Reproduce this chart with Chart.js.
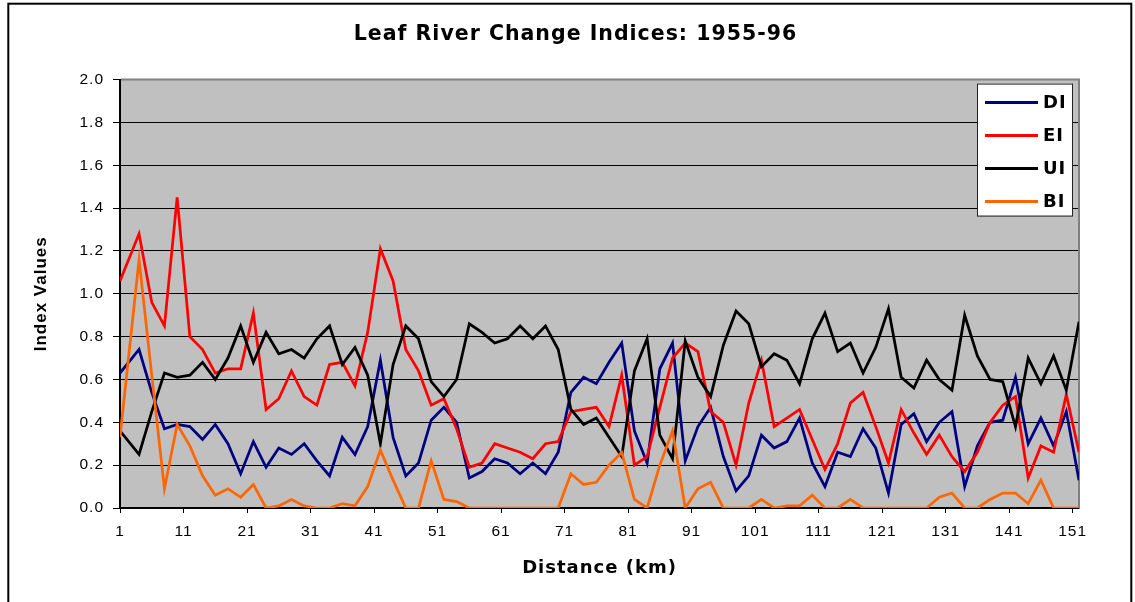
<!DOCTYPE html>
<html>
<head>
<meta charset="utf-8">
<title>Leaf River Change Indices: 1955-96</title>
<script src="https://cdn.jsdelivr.net/npm/chart.js@4.4.1/dist/chart.umd.min.js"></script>
<style>
  html, body { margin: 0; padding: 0; background: #fff; }
  #wrap { width: 1135px; height: 602px; }
</style>
</head>
<body>
<div id="wrap"><canvas id="chart"></canvas></div>
<script>
// distance down the river (km), one sample per reach
const distance = [1, 4, 6, 8, 10, 12, 14, 16, 18, 20, 22, 24, 26, 28, 30, 32, 34, 36, 38, 40,
  42, 44, 46, 48, 50, 52, 54, 56, 58, 60, 62, 64, 66, 68, 70, 72, 74, 76, 78, 80,
  82, 84, 86, 88, 90, 92, 94, 96, 98, 100, 102, 104, 106, 108, 110, 112, 114, 116, 118, 120,
  122, 124, 126, 128, 130, 132, 134, 136, 138, 140, 142, 144, 146, 148, 150, 152];

const di = [0.63, 0.74, 0.54, 0.37, 0.39, 0.38, 0.32, 0.39, 0.30, 0.16, 0.31, 0.19, 0.28, 0.25, 0.30, 0.22, 0.15, 0.33, 0.25, 0.38,
  0.69, 0.33, 0.15, 0.21, 0.41, 0.47, 0.40, 0.14, 0.17, 0.23, 0.21, 0.16, 0.21, 0.16, 0.26, 0.54, 0.61, 0.58, 0.68, 0.77,
  0.36, 0.21, 0.65, 0.77, 0.22, 0.38, 0.47, 0.24, 0.08, 0.15, 0.34, 0.28, 0.31, 0.42, 0.21, 0.10, 0.26, 0.24, 0.37, 0.28,
  0.07, 0.39, 0.44, 0.31, 0.40, 0.45, 0.10, 0.29, 0.40, 0.41, 0.61, 0.30, 0.42, 0.29, 0.45, 0.13];

const ei = [1.06, 1.28, 0.96, 0.85, 1.45, 0.80, 0.74, 0.63, 0.65, 0.65, 0.91, 0.46, 0.51, 0.64, 0.52, 0.48, 0.67, 0.68, 0.57, 0.82,
  1.21, 1.06, 0.74, 0.64, 0.48, 0.51, 0.37, 0.19, 0.21, 0.30, 0.28, 0.26, 0.23, 0.30, 0.31, 0.45, 0.46, 0.47, 0.38, 0.62,
  0.20, 0.24, 0.47, 0.70, 0.77, 0.73, 0.45, 0.40, 0.20, 0.49, 0.69, 0.38, 0.42, 0.46, 0.32, 0.18, 0.30, 0.49, 0.54, 0.38,
  0.21, 0.46, 0.35, 0.25, 0.34, 0.24, 0.17, 0.26, 0.40, 0.48, 0.52, 0.14, 0.29, 0.26, 0.53, 0.26];

const ui = [0.36, 0.25, 0.45, 0.63, 0.61, 0.62, 0.68, 0.60, 0.70, 0.85, 0.68, 0.82, 0.72, 0.74, 0.70, 0.79, 0.85, 0.67, 0.75, 0.62,
  0.30, 0.67, 0.85, 0.79, 0.59, 0.52, 0.60, 0.86, 0.82, 0.77, 0.79, 0.85, 0.79, 0.85, 0.74, 0.46, 0.39, 0.42, 0.33, 0.24,
  0.64, 0.79, 0.34, 0.23, 0.78, 0.61, 0.52, 0.76, 0.92, 0.86, 0.66, 0.72, 0.69, 0.58, 0.79, 0.91, 0.73, 0.77, 0.63, 0.75,
  0.93, 0.61, 0.56, 0.69, 0.60, 0.55, 0.90, 0.71, 0.60, 0.59, 0.38, 0.70, 0.58, 0.71, 0.55, 0.87];

const bi = [0.33, 1.16, 0.62, 0.09, 0.39, 0.29, 0.15, 0.06, 0.09, 0.05, 0.11, 0.00, 0.01, 0.04, 0.01, 0.00, 0.00, 0.02, 0.01, 0.10,
  0.27, 0.13, 0.00, 0.00, 0.22, 0.04, 0.03, 0.00, 0.00, 0.00, 0.00, 0.00, 0.00, 0.00, 0.00, 0.16, 0.11, 0.12, 0.20, 0.26,
  0.04, 0.00, 0.20, 0.36, 0.00, 0.09, 0.12, 0.00, 0.00, 0.00, 0.04, 0.00, 0.01, 0.01, 0.06, 0.00, 0.00, 0.04, 0.00, 0.00,
  0.00, 0.00, 0.00, 0.00, 0.05, 0.07, 0.00, 0.00, 0.04, 0.07, 0.07, 0.02, 0.13, 0.00, 0.00, 0.00];

const xTicks = [1, 11, 21, 31, 41, 51, 61, 71, 81, 91, 101, 111, 121, 131, 141, 151];
const yTicks = [0, 0.2, 0.4, 0.6, 0.8, 1.0, 1.2, 1.4, 1.6, 1.8, 2.0];

const sans = '"Liberation Sans", Arial, sans-serif';
const wide = '"DejaVu Sans", Verdana, sans-serif'; // the original headings are set wide
const spacing = '1px';

// frame, grey plot area and the boxed legend inside the plot
const frame = {
  id: 'frame',
  beforeUpdate(chart) {
    chart.ctx.letterSpacing = spacing;
  },
  beforeDraw(chart) {
    const {ctx, chartArea: a, width, height} = chart;
    ctx.letterSpacing = spacing;
    ctx.save();
    ctx.fillStyle = '#fff';
    ctx.fillRect(0, 0, width, height);
    ctx.strokeStyle = '#000';
    ctx.lineWidth = 2;
    ctx.strokeRect(8.3, 3.7, width - 12, height + 10);
    ctx.fillStyle = '#c0c0c0';
    ctx.fillRect(a.left, a.top, a.right - a.left, a.bottom - a.top);
    ctx.restore();
  },
  beforeDatasetsDraw(chart) {
    const {ctx, chartArea: a} = chart;
    ctx.save();
    ctx.strokeStyle = '#808080';
    ctx.lineWidth = 2;
    ctx.beginPath();
    ctx.moveTo(a.left + 1, a.top);
    ctx.lineTo(a.right, a.top);
    ctx.lineTo(a.right, a.bottom);
    ctx.stroke();
    ctx.restore();
  },
  afterDatasetsDraw(chart) {
    const {ctx, chartArea: a} = chart;
    const x = a.right - 102, y = a.top + 4, w = 95, h = 132;
    ctx.save();
    ctx.fillStyle = '#fff';
    ctx.fillRect(x, y, w, h);
    ctx.strokeStyle = '#222';
    ctx.lineWidth = 1;
    ctx.strokeRect(x + 0.5, y + 0.5, w, h);
    ctx.font = 'bold 18px ' + wide;
    ctx.textBaseline = 'middle';
    chart.data.datasets.forEach((ds, i) => {
      const cy = y + 19 + i * 33;
      ctx.strokeStyle = ds.borderColor;
      ctx.lineWidth = 3;
      ctx.beginPath();
      ctx.moveTo(x + 8, cy);
      ctx.lineTo(x + 61, cy);
      ctx.stroke();
      ctx.fillStyle = '#000';
      ctx.fillText(ds.label, x + 66, cy + 1);
    });
    ctx.restore();
  }
};

new Chart(document.getElementById('chart'), {
  type: 'line',
  data: {
    labels: distance,
    datasets: [
      { label: 'DI', data: di, borderColor: '#000080', order: 3 },
      { label: 'EI', data: ei, borderColor: '#ff0000', order: 2 },
      { label: 'UI', data: ui, borderColor: '#000000', order: 1 },
      { label: 'BI', data: bi, borderColor: '#ff6600', order: 0 }
    ]
  },
  options: {
    responsive: true,
    maintainAspectRatio: false,
    animation: false,
    layout: { padding: { left: 16, right: 0, top: 0, bottom: 0 } },
    elements: {
      point: { radius: 0 },
      line: { borderWidth: 2.75, tension: 0, fill: false }
    },
    plugins: {
      legend: { display: false },
      tooltip: { enabled: false },
      title: {
        display: true,
        text: 'Leaf River Change Indices: 1955-96',
        color: '#000',
        font: { family: wide, size: 20.5, weight: 'bold' },
        padding: { top: 22, bottom: 33 }
      }
    },
    scales: {
      x: {
        type: 'linear',
        min: 1,
        max: 152,
        afterBuildTicks: s => { s.ticks = xTicks.map(v => ({ value: v })); },
        afterFit: s => { s.height = 94; },
        grid: { drawOnChartArea: false, drawTicks: true, tickLength: 5, color: '#000', lineWidth: 1 },
        border: { color: '#000', width: 1.5 },
        ticks: { color: '#000', font: { family: sans, size: 15.5 }, padding: 9, maxRotation: 0, autoSkip: false },
        title: {
          display: true,
          text: 'Distance (km)',
          color: '#000',
          font: { family: wide, size: 18, weight: 'bold' },
          padding: { top: 0, bottom: 23 }
        }
      },
      y: {
        min: 0,
        max: 2,
        afterBuildTicks: s => { s.ticks = yTicks.map(v => ({ value: v })); },
        afterFit: s => { s.width = 104; },
        grid: { color: '#000', lineWidth: 1, tickLength: 7 },
        border: { color: '#000', width: 2 },
        ticks: { color: '#000', font: { family: sans, size: 15.5 }, padding: 9, callback: v => Number(v).toFixed(1) },
        title: {
          display: true,
          text: 'Index Values',
          color: '#000',
          font: { family: sans, size: 17, weight: 'bold' },
          padding: { top: 15, bottom: 0 }
        }
      },
      // empty strip on the right so the plot stops where the original does
      spacer: {
        position: 'right',
        grid: { display: false },
        border: { display: false },
        ticks: { display: false },
        afterFit: s => { s.width = 56; }
      }
    }
  },
  plugins: [frame]
});
</script>
</body>
</html>
